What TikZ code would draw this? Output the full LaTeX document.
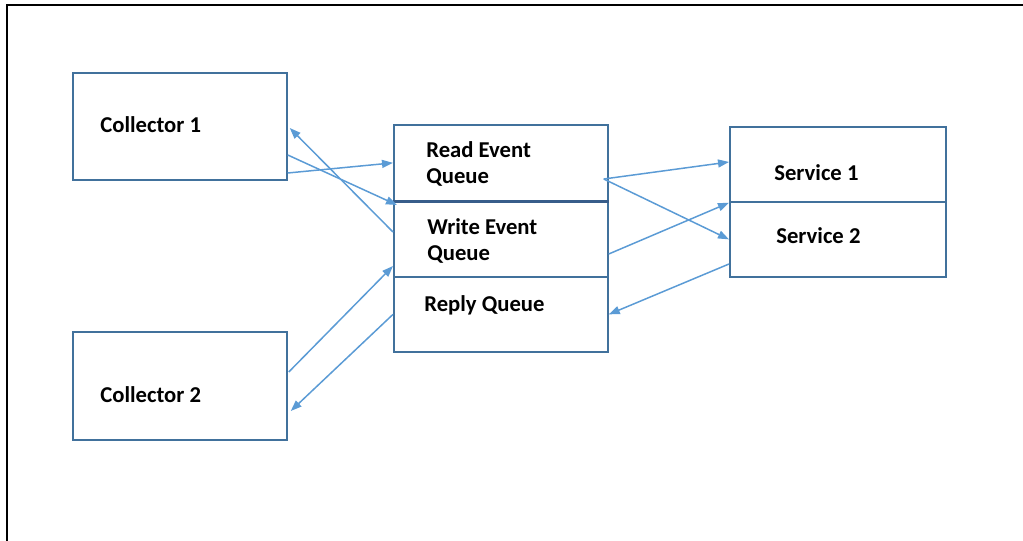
\documentclass[tikz,border=0pt]{standalone}
\usepackage{fontspec}
\setmainfont{Carlito}
\usetikzlibrary{positioning, arrows.meta, calc}

\definecolor{boxblue}{HTML}{41719C}
\definecolor{sepblue}{HTML}{385D8A}
\definecolor{arrblue}{HTML}{5B9BD5}

\begin{document}
\begin{tikzpicture}[
    x = 0.2mm, y = -0.2mm,
    every node/.style = {font = \fontsize{12.9}{14.7}\selectfont\bfseries},
    box/.style        = {draw = boxblue, line width = 1pt, anchor = north west, inner sep = 0pt, minimum width = 42.8mm},
    lbl/.style        = {anchor = west, inner sep = 0pt, align = left},
    arr/.style        = {draw = arrblue, line width = 0.85pt, -{Triangle[length=2.2mm, width=1.6mm]}},
    sep/.style        = {draw = sepblue, line width = 1.8pt},
]

% ---------- page frame ----------
\useasboundingbox (0,0) rectangle (1023,541);
\draw[line width = 0.45mm] (7,541) -- (7,5) -- (1023,5);

% ---------- boxes: (x, y) in pixels, top left corner ----------
\node[box, minimum height = 21.4mm] (coll1)  at ( 72,  72) {};
\node[box, minimum height = 21.6mm] (coll2)  at ( 72, 331) {};

\node[box, minimum height = 15.2mm] (readq)  at (393, 124) {};
\node[box, minimum height = 15.2mm] (writeq) at (393, 200) {};
\node[box, minimum height = 15.0mm] (replyq) at (393, 276) {};

\node[box, minimum width = 43.2mm, minimum height = 15.0mm] (svc1) at (729, 126) {};
\node[box, minimum width = 43.2mm, minimum height = 15.0mm] (svc2) at (729, 201) {};

\draw[sep] (readq.south west) -- (readq.south east);

% ---------- labels ----------
\node[lbl] (coll1lbl)  at (100, 125) {Collector 1};
\node[lbl] (coll2lbl)  at (100, 395) {Collector 2};
\node[lbl] (readlbl)   at (426, 164) {Read Event\\Queue};
\node[lbl] (writelbl)  at (427, 241) {Write Event\\Queue};
\node[lbl] (replylbl)  at (424, 305) {Reply Queue};
\node[lbl] (svc1lbl)   at (774, 173) {Service 1};
\node[lbl] (svc2lbl)   at (776, 236) {Service 2};

% ---------- collectors <-> queues ----------
\draw[arr] ($(coll1.north east)+(0,101)$) -- (readq.west);
\draw[arr] ($(coll1.north east)+(0,83)$) -- ($(writeq.north west)+(4,5)$);
\draw[arr] ($(writeq.north west)+(0,32)$) -- ($(coll1.north east)+(2,56)$);
\draw[arr] ($(coll2.north east)+(1,41)$) -- ($(writeq.north west)+(0,66)$);
\draw[arr] (replyq.west) -- ($(coll2.north east)+(3,80)$);

% ---------- queues <-> services ----------
\draw[arr] ($(readq.north east)+(-5,55)$) -- ($(svc1.north west)+(0,36)$);
\draw[arr] ($(readq.north east)+(-5,55)$) -- (svc2.west);
\draw[arr] ($(writeq.north east)+(0,54)$) -- (svc1.south west);
\draw[arr] ($(svc2.north west)+(0,63)$) -- (replyq.east);

\end{tikzpicture}
\end{document}
